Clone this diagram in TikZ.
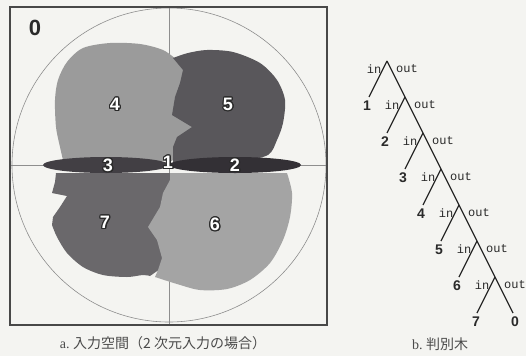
\documentclass[tikz,border=0pt]{standalone}
\usepackage{fontspec}
\setmainfont{Liberation Serif}
\setsansfont{Liberation Sans}
\setmonofont{Liberation Mono}
\newfontfamily\jpfont{Noto Sans CJK JP}
\usepackage{contour}
\contourlength{1.1pt}
\definecolor{paper}{HTML}{F4F4F1}
\definecolor{frameline}{HTML}{484848}
\definecolor{ringline}{HTML}{8E8E8E}
\definecolor{regA}{HTML}{9B9B9B}
\definecolor{regB}{HTML}{59575B}
\definecolor{regC}{HTML}{A4A4A4}
\definecolor{regD}{HTML}{6A686B}
\definecolor{barL}{HTML}{423F44}
\definecolor{barR}{HTML}{333035}
\definecolor{lblline}{HTML}{2A2A2A}
\definecolor{treeline}{HTML}{2A2A2A}
\definecolor{captext}{HTML}{4A4A4A}
\usetikzlibrary{positioning,calc}

\begin{document}
\begin{tikzpicture}[x=1pt, y=-1pt,
  reglbl/.style={text=white, font=\fontsize{18}{18}\selectfont\sffamily\bfseries, inner sep=0pt},
  leaf/.style={font=\fontsize{14}{14}\selectfont\sffamily\bfseries, text=treeline, inner sep=1pt},
  io/.style={font=\fontsize{12}{12}\selectfont\ttfamily, text=treeline, inner sep=0pt},
  branch/.style={draw=treeline, line width=1.3pt},
  captxt/.style={font=\fontsize{14}{16}\selectfont, text=captext}
]
  \useasboundingbox (0,0) rectangle (526,356);
  \fill[paper] (0,0) rectangle (526,356);

  % input space
  \draw[ringline, line width=0.5pt] (169,7) -- (169,325);
  \draw[ringline, line width=0.5pt] (10,165) -- (327,165);

  \fill[regA] (196,127) -- (184,68) -- plot[smooth] coordinates {(177,60) (163,50) (140,44) (110,43) (83,48) (67,62) (58,80) (55,100) (56,127) (60,147) (63,160)} -- (172,161) -- cycle;
  \fill[regB] (173,58) -- (183,70) -- (180,83) -- (175,97) -- (172,115) -- (192,127) -- (177,137) -- (173,147) -- (173,162)
    -- plot[smooth] coordinates {(240,162) (268,155) (277,140) (283,123) (285,100) (277,80) (260,63) (233,52) (207,50) (188,53) (173,58)} -- cycle;
  \fill[regD] (56,173) -- (175,173) -- (170,262) -- plot[smooth] coordinates {(150,276) (143,275) (127,277) (103,275) (83,267) (67,253) (57,237) (52,225)}
    -- (53,217) -- (60,207) -- (67,196) -- (52,193) -- (55,182) -- cycle;
  \fill[regC] (170,173) -- plot[smooth] coordinates {(287,173) (292,193) (290,217) (283,240) (270,263) (250,280) (227,289) (200,290) (177,284) (155,277)}
    -- (158,270) -- (162,258) -- (157,240) -- (148,227) -- (160,207) -- (163,193) -- (170,180) -- cycle;
  \fill[barL] (106,165) ellipse [x radius=63, y radius=8];
  \fill[barR] (235,165) ellipse [x radius=66, y radius=8];

  \draw[ringline, line width=0.6pt] (169,165) circle (157);
  \draw[frameline, line width=1.6pt] (10,7) rectangle (327,325);

  \node[font=\fontsize{22}{22}\selectfont\sffamily\bfseries, text=treeline] (zero) at (35,28) {0};
  \node[reglbl] (r4lbl) at (115,105) {\contour{lblline}{4}};
  \node[reglbl] (r5lbl) at (228,105) {\contour{lblline}{5}};
  \node[reglbl] (r3lbl) at (108,166) {\contour{lblline}{3}};
  \node[reglbl] (r1lbl) at (168,163) {\contour{lblline}{1}};
  \node[reglbl] (r2lbl) at (235,166) {\contour{lblline}{2}};
  \node[reglbl] (r7lbl) at (105,223) {\contour{lblline}{7}};
  \node[reglbl] (r6lbl) at (215,225) {\contour{lblline}{6}};

  % decision tree
  \coordinate (t0) at (387,61);
  \coordinate (t1) at (405,97);
  \coordinate (t2) at (423,133);
  \coordinate (t3) at (441,169);
  \coordinate (t4) at (459,205);
  \coordinate (t5) at (477,241);
  \coordinate (t6) at (495,277);
  \coordinate (e1) at ($(t0)+(-18,36)$);
  \coordinate (e2) at ($(t1)+(-18,36)$);
  \coordinate (e3) at ($(t2)+(-18,36)$);
  \coordinate (e4) at ($(t3)+(-18,36)$);
  \coordinate (e5) at ($(t4)+(-18,36)$);
  \coordinate (e6) at ($(t5)+(-18,36)$);
  \coordinate (e7) at ($(t6)+(-18,36)$);
  \coordinate (e0) at ($(t6)+(18,36)$);

  \draw[branch] (t0) -- (t1) -- (t2) -- (t3) -- (t4) -- (t5) -- (t6) -- (e0);
  \draw[branch] (t0) -- (e1);
  \draw[branch] (t1) -- (e2);
  \draw[branch] (t2) -- (e3);
  \draw[branch] (t3) -- (e4);
  \draw[branch] (t4) -- (e5);
  \draw[branch] (t5) -- (e6);
  \draw[branch] (t6) -- (e7);

  \node[leaf, below=3pt of e1, xshift=-2pt] (n1) {1};
  \node[leaf, below=3pt of e2, xshift=-2pt] (n2) {2};
  \node[leaf, below=3pt of e3, xshift=-2pt] (n3) {3};
  \node[leaf, below=3pt of e4, xshift=-2pt] (n4) {4};
  \node[leaf, below=3pt of e5, xshift=-2pt] (n5) {5};
  \node[leaf, below=3pt of e6, xshift=-2pt] (n6) {6};
  \node[leaf, below=3pt of e7, xshift=-1pt] (n7) {7};
  \node[leaf, below=3pt of e0, xshift=2pt] (n0) {0};

  \node[io] (in0) at ($(t0)+(-13,8)$) {in};  \node[io] (out0) at ($(t0)+(20,8)$) {out};
  \node[io] (in1) at ($(t1)+(-13,8)$) {in};  \node[io] (out1) at ($(t1)+(20,8)$) {out};
  \node[io] (in2) at ($(t2)+(-13,8)$) {in};  \node[io] (out2) at ($(t2)+(20,8)$) {out};
  \node[io] (in3) at ($(t3)+(-13,8)$) {in};  \node[io] (out3) at ($(t3)+(20,8)$) {out};
  \node[io] (in4) at ($(t4)+(-13,8)$) {in};  \node[io] (out4) at ($(t4)+(20,8)$) {out};
  \node[io] (in5) at ($(t5)+(-13,8)$) {in};  \node[io] (out5) at ($(t5)+(20,8)$) {out};
  \node[io] (in6) at ($(t6)+(-13,8)$) {in};  \node[io] (out6) at ($(t6)+(20,8)$) {out};

  % captions
  \node[captxt] (capa) at (163,343) {a.\ {\jpfont 入力空間（2 次元入力の場合）}};
  \node[captxt] (capb) at (440,344) {b.\ {\jpfont 判別木}};
\end{tikzpicture}
\end{document}
